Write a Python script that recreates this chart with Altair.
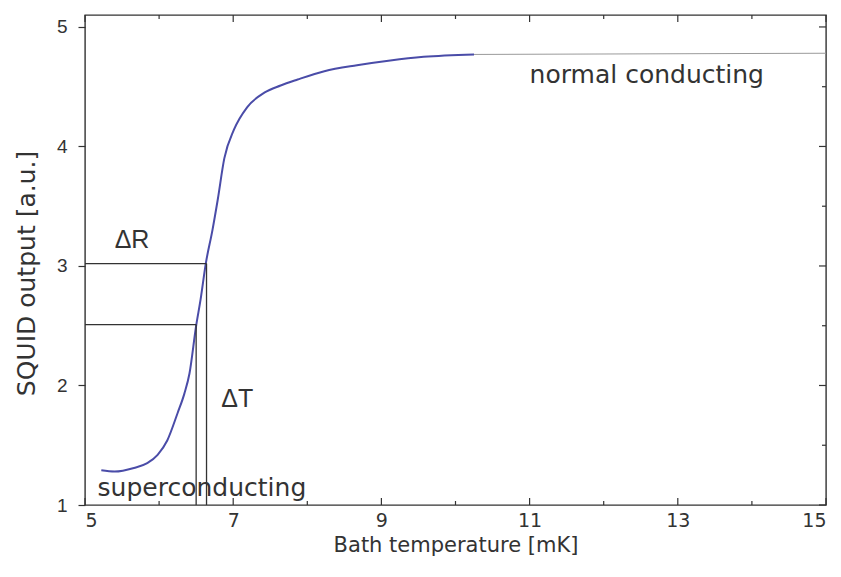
import altair as alt
import pandas as pd

# ---- data ----
temp_mk = [5.22, 5.40, 5.66, 5.84, 5.98, 6.11, 6.25, 6.34, 6.41, 6.50, 6.56, 6.63,
           6.72, 6.79, 6.88, 7.01, 7.19, 7.42, 7.64, 7.87, 8.23, 8.67, 9.12, 9.57, 10.25]
squid_out = [1.29, 1.28, 1.31, 1.35, 1.42, 1.54, 1.77, 1.93, 2.10, 2.50, 2.72, 3.02,
             3.30, 3.55, 3.90, 4.14, 4.33, 4.45, 4.51, 4.56, 4.63, 4.68, 4.72, 4.75, 4.77]

flat_x = [10.25, 15.0]
flat_y = [4.77, 4.78]

# bracket lines (Delta R / Delta T construction)
h_y = [3.02, 2.51]
h_x_end = [6.64, 6.50]
v_x = [6.64, 6.50]
v_y_end = [3.02, 2.51]

x_major = [5, 7, 9, 11, 13, 15]
x_minor = [6, 8, 10, 12, 14]
y_major = [1, 2, 3, 4, 5]
y_minor = [1.5, 2.5, 3.5, 4.5]
y_axis_values = [1, 1.5, 2, 2.5, 3, 3.5, 4, 4.5, 5]

comic_labels = ["superconducting", "normal conducting"]
comic_x = [5.17, 11.0]
comic_y = [1.14, 4.6]
delta_labels = ["ΔR", "ΔT"]
delta_x = [5.40, 6.84]
delta_y = [3.22, 1.89]

W, H = 741, 490
XDOM = [5, 15]
YDOM = [1, 5.1]

xs = alt.Scale(domain=XDOM, nice=False, zero=False)
ys = alt.Scale(domain=YDOM, nice=False, zero=False)

curve_df = pd.DataFrame({"t": temp_mk, "s": squid_out})
flat_df = pd.DataFrame({"t": flat_x, "s": flat_y})
hdf = pd.DataFrame({"x0": [5.0, 5.0], "x1": h_x_end, "y": h_y})
vdf = pd.DataFrame({"x": v_x, "y0": [1.0, 1.0], "y1": v_y_end})

x_axis = alt.Axis(values=x_major, format="d", ticks=False, domain=False, labelFont="DejaVu Sans",
                  labelFontSize=19, labelColor="#333", labelPadding=6,
                  title="Bath temperature [mK]", titleFont="DejaVu Sans",
                  titleFontSize=21, titleFontWeight="normal", titleColor="#333",
                  titlePadding=4, grid=False)
y_axis = alt.Axis(values=y_axis_values, format="d",
                  labelExpr="datum.value % 1 === 0 ? datum.label : ''",
                  tickSize={"condition": {"test": "datum.value % 1 === 0", "value": 7}, "value": 4},
                  tickColor="#333", tickWidth=1.2, domain=False,
                  labelFont="Liberation Sans", labelFontSize=19, labelColor="#333",
                  labelPadding=11, title="SQUID output [a.u.]", titleFont="DejaVu Sans",
                  titleFontSize=25, titleFontWeight="normal", titleColor="#333",
                  titleX=-46, titleY=258, grid=False)

curve = alt.Chart(curve_df).mark_line(color="#4a4ca8", strokeWidth=2, interpolate="monotone").encode(
    x=alt.X("t:Q", scale=xs, axis=x_axis),
    y=alt.Y("s:Q", scale=ys, axis=y_axis),
)
flat = alt.Chart(flat_df).mark_line(color="#9a9a9a", strokeWidth=1).encode(
    x=alt.X("t:Q", scale=xs), y=alt.Y("s:Q", scale=ys))

hlines = alt.Chart(hdf).mark_rule(color="#333", strokeWidth=1.3).encode(
    x=alt.X("x0:Q", scale=xs), x2="x1:Q", y=alt.Y("y:Q", scale=ys))
vlines = alt.Chart(vdf).mark_rule(color="#333", strokeWidth=1.3).encode(
    x=alt.X("x:Q", scale=xs), y=alt.Y("y0:Q", scale=ys), y2="y1:Q")

comic_df = pd.DataFrame({"x": comic_x, "y": comic_y, "label": comic_labels})
comic_text = alt.Chart(comic_df).mark_text(font="DejaVu Sans", fontSize=25, align="left",
                                           baseline="middle", color="#333").encode(
    x=alt.X("x:Q", scale=xs), y=alt.Y("y:Q", scale=ys), text="label:N")
delta_df = pd.DataFrame({"x": delta_x, "y": delta_y, "label": delta_labels})
delta_text = alt.Chart(delta_df).mark_text(font="Liberation Sans", fontSize=25, align="left",
                                           baseline="middle", color="#333").encode(
    x=alt.X("x:Q", scale=xs), y=alt.Y("y:Q", scale=ys), text="label:N")

# inward ticks on bottom, top and right edges
def xticks(vals, y0, y1):
    return alt.Chart(pd.DataFrame({"v": vals})).mark_rule(color="#333", strokeWidth=1.2).encode(
        x=alt.X("v:Q", scale=xs), y=alt.value(y0), y2=alt.value(y1))

def yticks(vals, x0, x1):
    return alt.Chart(pd.DataFrame({"v": vals})).mark_rule(color="#333", strokeWidth=1.2).encode(
        y=alt.Y("v:Q", scale=ys), x=alt.value(x0), x2=alt.value(x1))

ticks = [
    xticks(x_major, H, H - 7), xticks(x_minor, H, H - 4),
    xticks(x_major, 0, 7), xticks(x_minor, 0, 4),
    yticks(y_major, W, W - 7), yticks(y_minor, W, W - 4),
]

chart = alt.layer(flat, curve, hlines, vlines, comic_text, delta_text, *ticks).properties(
    width=W, height=H,
    autosize=alt.AutoSizeParams(type="none"),
    padding={"left": 85, "top": 15, "right": 15, "bottom": 72},
    background="white",
).configure_view(stroke="#333", strokeWidth=1.4)

chart.save("out.html", embed_options={"renderer": "svg", "actions": False})
